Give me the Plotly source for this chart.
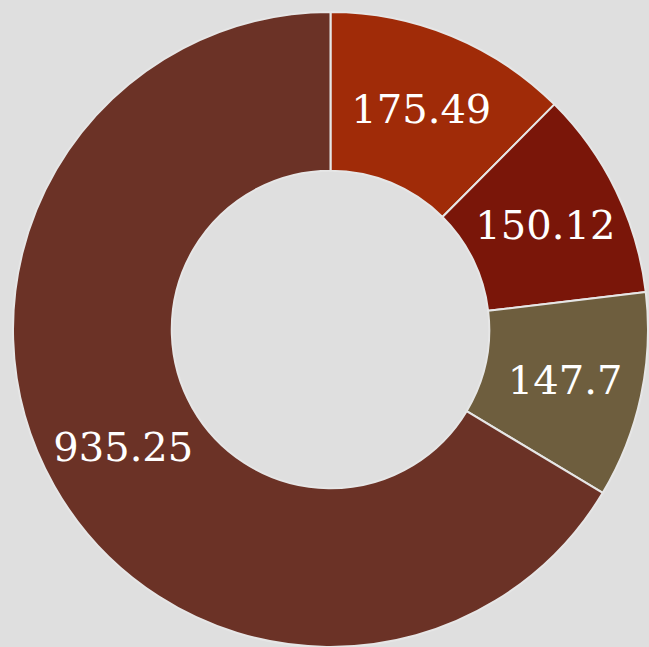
import plotly.graph_objects as go

labels = ["A", "B", "C", "D"]
values = [175.49, 150.12, 147.7, 935.25]
colors = ["#A02B08", "#7A1609", "#6E5E3E", "#6B3226"]

fig = go.Figure(
    go.Pie(
        labels=labels,
        values=values,
        hole=0.5,
        sort=False,
        direction="clockwise",
        rotation=0,
        marker=dict(colors=colors, line=dict(color="#E6E6E6", width=2)),
        textinfo="value",
        texttemplate="%{value}",
        textposition="inside",
        insidetextorientation="horizontal",
        textfont=dict(family="DejaVu Serif", size=40, color="#FFFFFF"),
        showlegend=False,
        hoverinfo="label+value",
    )
)

fig.update_layout(
    width=649,
    height=647,
    margin=dict(l=12, r=0, t=12, b=0),
    paper_bgcolor="#DFDFDF",
    plot_bgcolor="#DFDFDF",
    showlegend=False,
)

fig.write_html("out.html", config={"displayModeBar": False})

# remove the default browser body margin so the figure fills the window
with open("out.html", "r", encoding="utf-8") as f:
    html = f.read()
html = html.replace("<head>", "<head><style>html,body{margin:0;padding:0;background:#DFDFDF;}</style>", 1)
with open("out.html", "w", encoding="utf-8") as f:
    f.write(html)
